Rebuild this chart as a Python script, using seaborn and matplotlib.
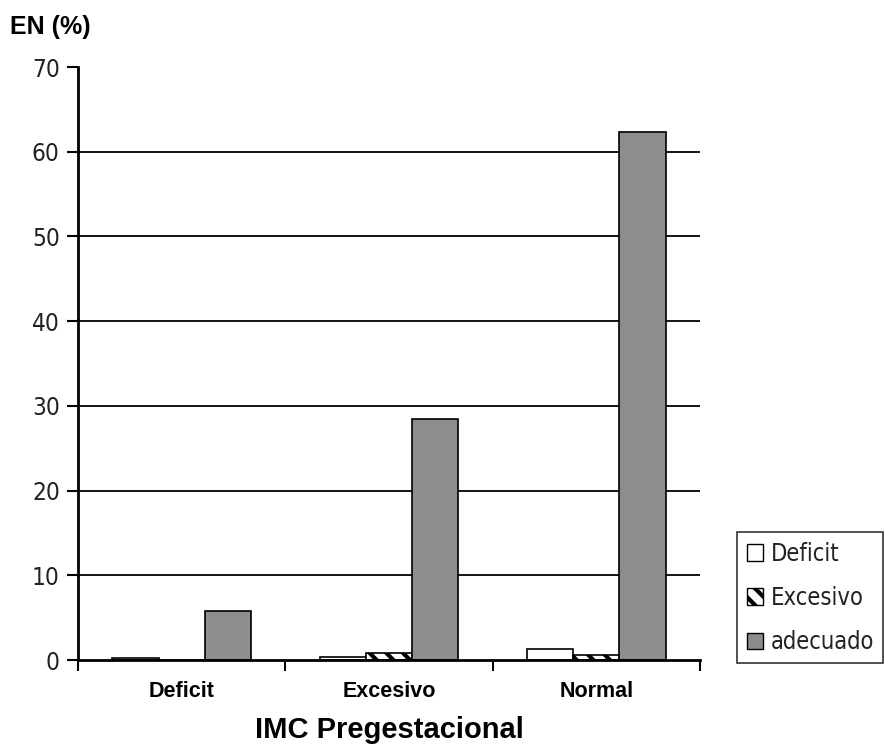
import pandas as pd
import seaborn as sns
import matplotlib.pyplot as plt
from matplotlib.patches import Patch
from matplotlib.font_manager import FontProperties

# Data
groups = ["Deficit", "Excesivo", "Normal"]
series = ["Deficit", "Excesivo", "adecuado"]
deficit_vals = [0.25, 0.4, 1.3]
excesivo_vals = [0.0, 0.8, 0.6]
adecuado_vals = [5.8, 28.4, 62.3]

rows = []
for name, vals in zip(series, [deficit_vals, excesivo_vals, adecuado_vals]):
    for g, v in zip(groups, vals):
        rows.append({"imc": g, "en": name, "pct": v})
df = pd.DataFrame(rows)

sns.set_theme(style="white")
plt.rcParams["hatch.linewidth"] = 3
plt.rcParams["text.color"] = "black"

thin = FontProperties(family="DejaVu Sans", stretch="condensed", size=17.5)
bold = dict(family="Liberation Sans", fontweight="bold")

fig = plt.figure(figsize=(8.85, 7.48), dpi=100)
ax = fig.add_axes([0.088, 0.1176, 0.703, 0.7928])

colors = {"Deficit": "white", "Excesivo": "white", "adecuado": "#8c8c90"}
sns.barplot(data=df, x="imc", y="pct", hue="en", hue_order=series, order=groups,
            palette=colors, edgecolor="black", linewidth=1.2, width=0.667,
            legend=False, ax=ax)

# hatch the Excesivo bars
for bar in ax.containers[1]:
    bar.set_hatch("\\\\")

ax.set_ylim(0, 70)
ax.set_xlim(-0.5, 2.5)
ax.set_yticks(range(0, 71, 10))
ax.tick_params(axis="y", direction="out", length=8, width=1.5, color="black",
               left=True, pad=5)
for lab in ax.get_yticklabels():
    lab.set_fontproperties(thin)
    lab.set_color("#222222")

# x ticks at group boundaries
ax.set_xticks([-0.5, 0.5, 1.5, 2.5], minor=True)
ax.tick_params(axis="x", which="major", length=0, pad=15)
ax.tick_params(axis="x", which="minor", direction="out", length=8, width=1.5,
               color="black", bottom=True)
for lab in ax.get_xticklabels():
    lab.set_fontsize(15.5)
    lab.set_fontfamily("Liberation Sans")
    lab.set_fontweight("bold")
    lab.set_color("black")

for y in range(10, 70, 10):
    ax.axhline(y, color="black", linewidth=1.3, zorder=0)

ax.spines["top"].set_visible(False)
ax.spines["right"].set_visible(False)
ax.spines["left"].set_linewidth(2)
ax.spines["bottom"].set_linewidth(2)
ax.spines["left"].set_color("black")
ax.spines["bottom"].set_color("black")

ax.set_ylabel("")
ax.set_xlabel("IMC Pregestacional", fontsize=21, color="black", labelpad=10, **bold)
fig.text(0.011, 0.955, "EN (%)", fontsize=18, color="black", ha="left", **bold)

handles = [
    Patch(facecolor="white", edgecolor="black", label="Deficit"),
    Patch(facecolor="white", edgecolor="black", hatch="\\\\", label="Excesivo"),
    Patch(facecolor="#8c8c90", edgecolor="black", label="adecuado"),
]
leg = fig.legend(handles=handles, loc="lower right", bbox_to_anchor=(0.998, 0.113),
                 frameon=True, fancybox=False, handlelength=0.7, handleheight=0.7,
                 handletextpad=0.3, labelspacing=0.85, borderpad=0.4,
                 borderaxespad=0.0,
                 prop=FontProperties(family="DejaVu Sans", stretch="condensed", size=17))
leg.get_frame().set_edgecolor("black")
leg.get_frame().set_linewidth(1.2)
for t in leg.get_texts():
    t.set_color("#222222")

fig.savefig("out.png", dpi=100)
